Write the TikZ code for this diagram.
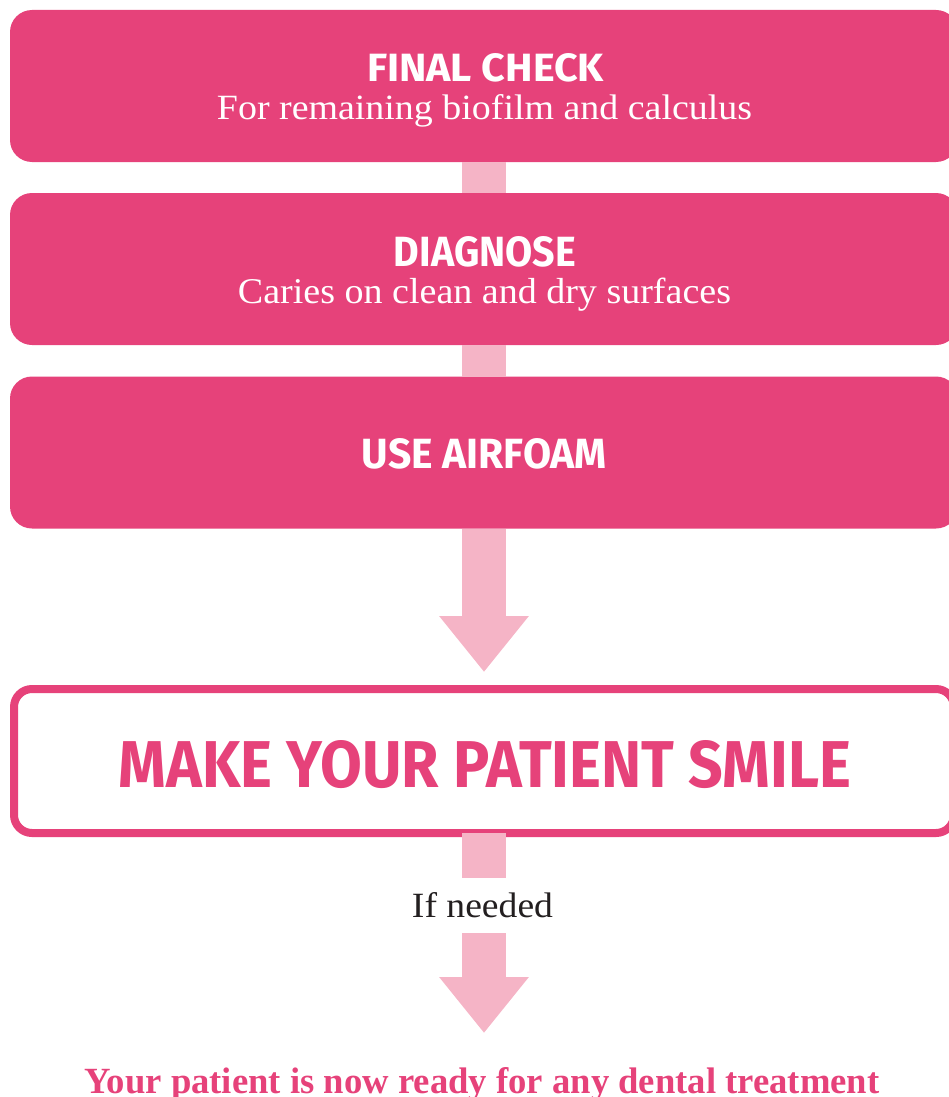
\documentclass[tikz,border=0pt]{standalone}
\usepackage{fontspec}
\usepackage{graphicx}
\setmainfont{Liberation Serif}
\newfontfamily\headfont{Fira Sans}
\usetikzlibrary{arrows.meta}
\definecolor{brandpink}{HTML}{E6427A}
\definecolor{lightpink}{HTML}{F5B4C6}
\definecolor{darktext}{HTML}{231F20}
\tikzset{
  stepbox/.style={fill=brandpink, rounded corners=22pt, minimum width=948pt, minimum height=152pt, inner sep=0pt, outer sep=0pt},
  goalbox/.style={draw=brandpink, fill=white, line width=8pt, rounded corners=18pt, minimum width=940pt, minimum height=144pt, inner sep=0pt, outer sep=0pt},
  txt/.style={inner sep=0pt, outer sep=0pt, anchor=base},
  bar/.style={draw=lightpink, line width=44pt},
  arrowbar/.style={draw=lightpink, line width=44pt, -{Triangle[width=86pt,length=56pt]}},
}
\begin{document}
\begin{tikzpicture}[x=1pt,y=-1pt]
\useasboundingbox (0,0) rectangle (949,1097);
\clip (0,0) rectangle (949,1097);
% boxes
\node[stepbox] (b1) at (484,86) {};
\node[stepbox] (b2) at (484,269) {};
\node[stepbox] (b3) at (484,452.5) {};
\node[goalbox] (b4) at (484,761) {};
% connectors
\draw[bar] (b1.south) -- (b2.north);
\draw[bar] (b2.south) -- (b3.north);
\draw[arrowbar, shorten >=17pt] (b3.south) -- (b4.north);
% if needed
\node[inner sep=0pt, outer sep=0pt, minimum height=55pt, text=darktext] (ifn) at (482.5,905.5) {\resizebox{141pt}{25pt}{If needed}};
\draw[bar] (b4.south) -- (b4.south |- ifn.north);
% final line
\node[txt, text=brandpink] (fin) at (482,1093) {\resizebox{795pt}{26pt}{\bfseries Your patient is now ready for any dental treatment}};
\draw[arrowbar, shorten >=34pt] (b4.south |- ifn.south) -- (b4.south |- fin.north);
% texts
\node[txt, text=white] (t1a) at (485.5,82) {\resizebox{237pt}{28pt}{\headfont\bfseries FINAL CHECK}};
\node[txt, text=white] (t1b) at (484.5,119.5) {\resizebox{535pt}{25pt}{For remaining biofilm and calculus}};
\node[txt, text=white] (t2a) at (485,266) {\resizebox{182pt}{30pt}{\headfont\bfseries DIAGNOSE}};
\node[txt, text=white] (t2b) at (484.5,303) {\resizebox{493pt}{25.5pt}{Caries on clean and dry surfaces}};
\node[txt, text=white] (t3a) at (484.5,468) {\resizebox{245pt}{30pt}{\headfont\bfseries USE AIRFOAM}};
\node[txt, text=brandpink] (t4a) at (485,787) {\resizebox{732pt}{47pt}{\headfont\bfseries MAKE YOUR PATIENT SMILE}};
\end{tikzpicture}
\end{document}
